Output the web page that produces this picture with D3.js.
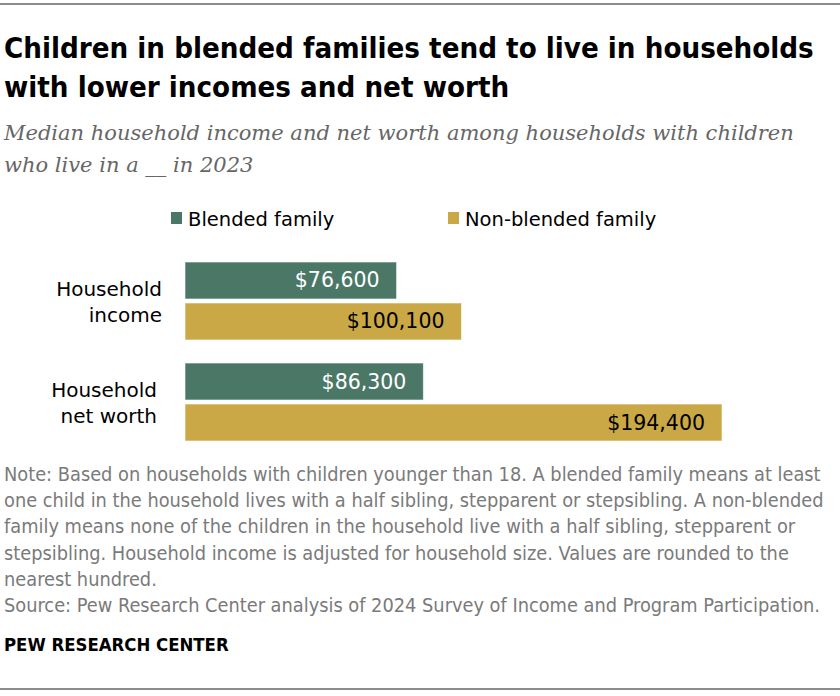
<!DOCTYPE html>
<html>
<head>
<meta charset="utf-8">
<script src="https://cdn.jsdelivr.net/npm/d3@7"></script>
<style>
  body { margin: 0; background: #fff; }
  svg { display: block; }
</style>
</head>
<body>
<div id="chart"></div>
<script>
const categories = ["Household income", "Household net worth"];
const categoryLines = [["Household", "income"], ["Household", "net worth"]];
const series = ["Blended family", "Non-blended family"];
const blended = [76600, 86300];
const nonBlended = [100100, 194400];
const valueLabels = [["$76,600", "$100,100"], ["$86,300", "$194,400"]];

const titleLines = ["Children in blended families tend to live in households", "with lower incomes and net worth"];
const subtitleLines = ["Median household income and net worth among households with children", "who live in a __ in 2023"];
const noteLines = [
      "Note: Based on households with children younger than 18. A blended family means at least",
      "one child in the household lives with a half sibling, stepparent or stepsibling. A non-blended",
      "family means none of the children in the household live with a half sibling, stepparent or",
      "stepsibling. Household income is adjusted for household size. Values are rounded to the",
      "nearest hundred.",
      "Source: Pew Research Center analysis of 2024 Survey of Income and Program Participation."
];

const width = 840, height = 696;
const colors = ["#4b7767", "#caa846"];
const narrow = "'DejaVu Sans Condensed', 'Liberation Sans Narrow', sans-serif";
const sans = "'DejaVu Sans', sans-serif";

const svg = d3.select("#chart").append("svg")
      .attr("width", width)
      .attr("height", height);

// rules
svg.append("rect").attr("x", 0).attr("y", 3).attr("width", width).attr("height", 2).attr("fill", "#8c8c8c");
svg.append("rect").attr("x", 0).attr("y", 688).attr("width", width).attr("height", 2).attr("fill", "#8c8c8c");

svg.append("g").selectAll("text")
      .data(titleLines)
      .join("text")
      .attr("x", 4)
      .attr("y", (d, i) => 58 + i * 39)
      .attr("font-family", narrow)
      .attr("font-weight", "bold")
      .attr("font-size", 29.2)
      .attr("fill", "#000")
      .text(d => d);

svg.append("g").selectAll("text")
      .data(subtitleLines)
      .join("text")
      .attr("x", 4)
      .attr("y", (d, i) => 140 + i * 32)
      .attr("font-family", "'DejaVu Serif', serif")
      .attr("font-style", "italic")
      .attr("font-size", 21)
      .attr("fill", "#666")
      .text(d => d);

// legend
const legend = svg.append("g").selectAll("g")
      .data(series)
      .join("g")
      .attr("transform", (d, i) => `translate(${i === 0 ? 171 : 448},212)`);
legend.append("rect")
      .attr("width", 11).attr("height", 12)
      .attr("fill", (d, i) => colors[i]);
legend.append("text")
      .attr("x", 17)
      .attr("y", 14)
      .attr("font-family", sans)
      .attr("font-size", 19.5)
      .attr("fill", "#000")
      .text(d => d);

// scales
const x = d3.scaleLinear()
      .domain([0, d3.max(nonBlended)])
      .range([185, 722]);

const y0 = d3.scaleBand()
      .domain(categories)
      .range([262, 441])
      .paddingInner(0.228);

const y1 = d3.scaleBand()
      .domain(series)
      .range([0, y0.bandwidth()])
      .paddingInner(0.0976);

const rows = categories.map((c, i) => ({
      category: c,
      lines: categoryLines[i],
      values: [blended[i], nonBlended[i]].map((v, j) => ({series: series[j], value: v, label: valueLabels[i][j], idx: j}))
}));

const groups = svg.append("g").selectAll("g")
      .data(rows)
      .join("g")
      .attr("transform", d => `translate(0,${y0(d.category)})`);

groups.selectAll("rect")
      .data(d => d.values)
      .join("rect")
      .attr("x", x(0))
      .attr("y", d => y1(d.series))
      .attr("width", d => x(d.value) - x(0))
      .attr("height", y1.bandwidth())
      .attr("fill", d => colors[d.idx])
      .attr("stroke", "#fff")
      .attr("stroke-opacity", 0.6)
      .attr("stroke-width", 1);

groups.selectAll("text.val")
      .data(d => d.values)
      .join("text")
      .attr("class", "val")
      .attr("x", d => x(d.value) - 17)
      .attr("y", d => y1(d.series) + y1.bandwidth() / 2 + 7)
      .attr("text-anchor", "end")
      .attr("font-family", sans)
      .attr("font-size", 20.5)
      .attr("fill", d => d.idx === 0 ? "#fff" : "#000")
      .text(d => d.label);

groups.each(function (d, i) {
      d3.select(this).selectAll("text.cat")
            .data(d.lines)
            .join("text")
            .attr("class", "cat")
            .attr("x", i === 0 ? 162 : 157)
            .attr("y", (t, k) => 34 + k * 26)
            .attr("text-anchor", "end")
            .attr("font-family", sans)
            .attr("font-size", 20)
            .attr("fill", "#000")
            .text(t => t);
});

svg.append("g").selectAll("text")
      .data(noteLines)
      .join("text")
      .attr("x", 4)
      .attr("y", (d, i) => 481 + i * 26.2)
      .attr("font-family", narrow)
      .attr("font-size", 19.8)
      .attr("fill", "#7a7a7a")
      .text(d => d);

svg.append("text")
      .attr("x", 4)
      .attr("y", 651)
      .attr("font-family", narrow)
      .attr("font-weight", "bold")
      .attr("font-size", 18.4)
      .attr("fill", "#000")
      .text("PEW RESEARCH CENTER");
</script>
</body>
</html>
